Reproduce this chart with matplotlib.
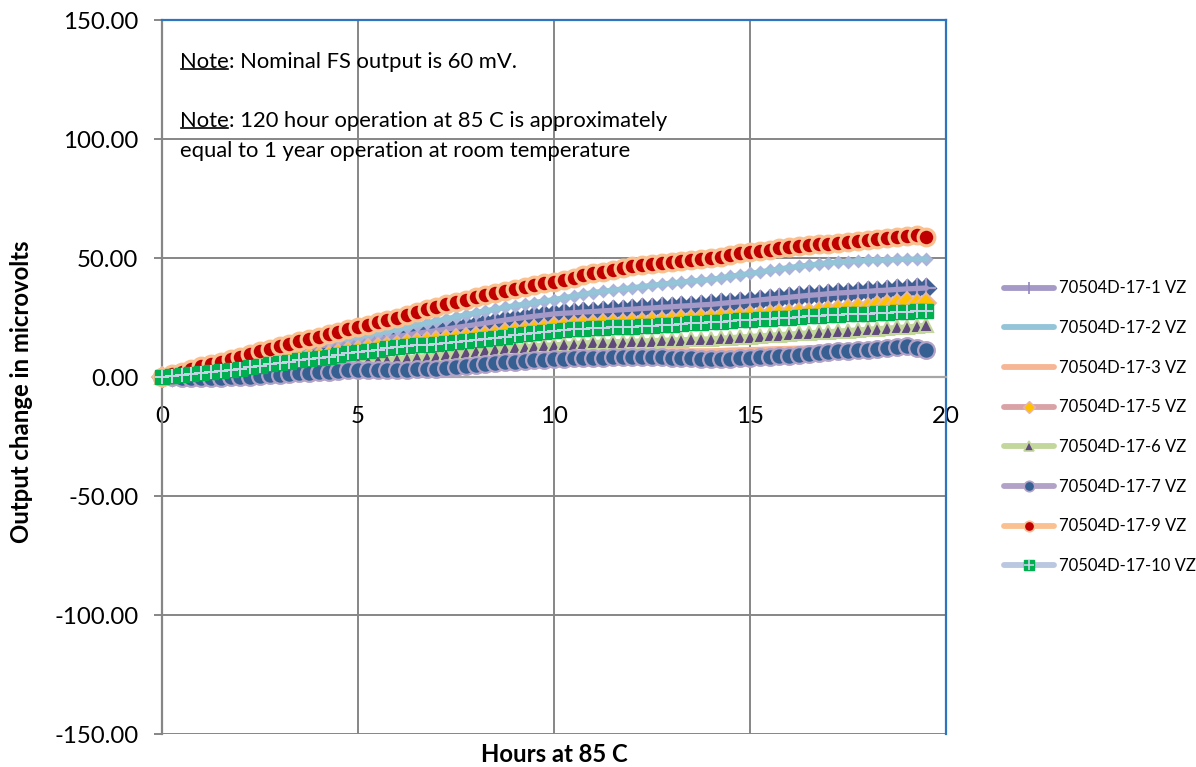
#!/usr/bin/env python3
"""
Output drift of 70504D-17 sensors during operation at 85 C.
"""

import matplotlib
matplotlib.use('Agg')
import matplotlib.pyplot as plt
from matplotlib.lines import Line2D

plt.rcParams['font.family'] = ['Lato', 'DejaVu Sans']

# ===============================
# Data
# ===============================
hours = [0, 0.25, 0.5, 0.75, 1, 1.25, 1.5, 1.75, 2, 2.25, 2.5, 2.75, 3, 3.25, 3.5, 3.75,
         4, 4.25, 4.5, 4.75, 5, 5.25, 5.5, 5.75, 6, 6.25, 6.5, 6.75, 7, 7.25, 7.5, 7.75,
         8, 8.25, 8.5, 8.75, 9, 9.25, 9.5, 9.75, 10, 10.25, 10.5, 10.75, 11, 11.25, 11.5, 11.75,
         12, 12.25, 12.5, 12.75, 13, 13.25, 13.5, 13.75, 14, 14.25, 14.5, 14.75, 15, 15.25, 15.5, 15.75,
         16, 16.25, 16.5, 16.75, 17, 17.25, 17.5, 17.75, 18, 18.25, 18.5, 18.75, 19, 19.25, 19.5]

vz_17_1 = [0, 0.5, 1.0, 1.5, 2.0, 2.7, 3.5, 4.2, 5.0, 6.0, 7.0, 8.0, 9.0, 10.0, 11.0, 12.0,
           13.0, 13.5, 14.0, 14.5, 15.0, 15.5, 16.0, 16.5, 17.0, 17.6, 18.3, 18.9, 19.5, 20.1, 20.8, 21.4,
           22.0, 22.6, 23.3, 23.9, 24.5, 25.0, 25.5, 26.0, 26.5, 26.8, 27.0, 27.3, 27.5, 27.8, 28.0, 28.3,
           28.5, 28.8, 29.0, 29.3, 29.5, 29.8, 30.0, 30.3, 30.5, 30.9, 31.3, 31.6, 32.0, 32.4, 32.8, 33.1,
           33.5, 33.9, 34.3, 34.6, 35.0, 35.3, 35.5, 35.8, 36.0, 36.3, 36.5, 36.8, 37.0, 37.2, 37.4]

vz_17_2 = [0, 0.7, 1.5, 2.2, 3.0, 4.0, 5.0, 6.0, 7.0, 8.1, 9.3, 10.4, 11.5, 12.3, 13.0, 13.8,
           14.5, 15.1, 15.8, 16.4, 17.0, 17.7, 18.5, 19.2, 20.0, 20.9, 21.8, 22.6, 23.5, 24.4, 25.3, 26.1,
           27.0, 27.8, 28.5, 29.3, 30.0, 30.6, 31.3, 31.9, 32.5, 33.3, 34.0, 34.8, 35.5, 36.0, 36.5, 37.0,
           37.5, 38.0, 38.5, 39.0, 39.5, 39.9, 40.3, 40.6, 41.0, 41.6, 42.3, 42.9, 43.5, 44.1, 44.8, 45.4,
           46.0, 46.5, 47.0, 47.5, 48.0, 48.3, 48.5, 48.8, 49.0, 49.1, 49.2, 49.4, 49.5, 49.5, 49.6]

vz_17_3 = [0, 0.0, 0.0, 0.0, 0.0, 0.1, 0.2, 0.4, 0.5, 0.8, 1.0, 1.3, 1.5, 1.8, 2.0, 2.3,
           2.5, 2.8, 3.0, 3.3, 3.5, 3.6, 3.8, 3.9, 4.0, 4.1, 4.3, 4.4, 4.5, 4.9, 5.3, 5.6,
           6.0, 6.4, 6.8, 7.1, 7.5, 7.8, 8.0, 8.3, 8.5, 8.8, 9.0, 9.3, 9.5, 9.8, 10.0, 10.3,
           10.5, 10.6, 10.8, 10.9, 11.0, 11.0, 11.0, 11.0, 11.0, 11.1, 11.3, 11.4, 11.5, 11.6, 11.8, 11.9,
           12.0, 12.1, 12.3, 12.4, 12.5, 12.5, 12.5, 12.5, 12.5, 12.5, 12.5, 12.5, 12.5, 12.3, 12.0]

vz_17_5 = [0, 0.4, 0.8, 1.1, 1.5, 2.0, 2.5, 3.0, 3.5, 4.1, 4.8, 5.4, 6.0, 6.6, 7.2, 7.8,
           8.4, 9.0, 9.7, 10.3, 11.0, 11.6, 12.1, 12.6, 13.2, 13.7, 14.1, 14.5, 15.0, 15.5, 15.9, 16.3,
           16.7, 17.2, 17.8, 18.3, 18.8, 19.3, 19.8, 20.3, 20.8, 21.1, 21.4, 21.7, 22.0, 22.1, 22.3, 22.4,
           22.5, 22.8, 23.0, 23.3, 23.5, 23.8, 24.0, 24.3, 24.5, 24.8, 25.0, 25.3, 25.5, 25.8, 26.0, 26.3,
           26.5, 26.8, 27.0, 27.3, 27.6, 28.0, 28.4, 28.8, 29.2, 29.7, 30.2, 30.8, 31.5, 30.5, 31.0]

vz_17_6 = [0, 0.2, 0.5, 0.7, 1.0, 1.2, 1.5, 1.7, 2.0, 2.4, 2.8, 3.1, 3.5, 3.9, 4.3, 4.6,
           5.0, 5.4, 5.8, 6.1, 6.5, 6.8, 7.0, 7.3, 7.5, 7.9, 8.3, 8.6, 9.0, 9.5, 10.0, 10.5,
           11.0, 11.4, 11.8, 12.1, 12.5, 12.8, 13.0, 13.3, 13.5, 13.8, 14.0, 14.3, 14.5, 14.6, 14.8, 14.9,
           15.0, 15.1, 15.3, 15.4, 15.5, 15.6, 15.8, 15.9, 16.0, 16.3, 16.5, 16.8, 17.0, 17.3, 17.5, 17.8,
           18.0, 18.3, 18.5, 18.8, 19.0, 19.3, 19.5, 19.8, 20.0, 20.3, 20.5, 20.8, 21.0, 21.4, 21.8]

vz_17_7 = [0, -0.2, -0.3, -0.4, -0.5, -0.5, -0.4, -0.2, 0.0, 0.2, 0.5, 0.8, 1.0, 1.2, 1.5, 1.8,
           2.0, 2.3, 2.5, 2.8, 3.0, 3.0, 2.9, 3.0, 3.0, 3.1, 3.2, 3.4, 3.5, 3.9, 4.3, 4.6,
           5.0, 5.4, 5.8, 6.1, 6.5, 6.8, 7.0, 7.3, 7.5, 7.6, 7.8, 7.9, 8.0, 8.1, 8.3, 8.4,
           8.5, 8.5, 8.3, 8.2, 8.0, 7.9, 7.8, 7.6, 7.5, 7.5, 7.6, 7.8, 8.0, 8.3, 8.5, 8.8,
           9.0, 9.4, 9.8, 10.1, 10.5, 10.8, 11.0, 11.3, 11.5, 11.9, 12.3, 12.6, 13.0, 12.0, 11.5]

vz_17_9 = [0, 1.2, 2.3, 3.5, 4.5, 5.5, 6.5, 7.5, 8.5, 9.7, 10.8, 11.9, 13.0, 14.0, 15.0, 16.1,
           17.0, 18.0, 19.1, 20.0, 21.0, 22.0, 23.1, 24.0, 25.0, 26.2, 27.3, 28.4, 29.5, 30.5, 31.6, 32.5,
           33.5, 34.4, 35.3, 36.2, 37.0, 37.8, 38.6, 39.3, 40.0, 40.9, 41.8, 42.7, 43.5, 44.3, 45.1, 45.9,
           46.5, 47.0, 47.6, 48.0, 48.5, 48.9, 49.3, 49.7, 50.0, 50.6, 51.2, 51.9, 52.5, 53.0, 53.5, 54.0,
           54.5, 54.9, 55.3, 55.7, 56.0, 56.4, 56.8, 57.1, 57.5, 58.0, 58.4, 58.9, 59.4, 59.8, 59.0]

vz_17_10 = [0, 0.4, 0.8, 1.1, 1.5, 2.0, 2.5, 3.0, 3.5, 4.1, 4.8, 5.4, 6.0, 6.5, 7.0, 7.5,
            8.0, 8.6, 9.3, 9.9, 10.5, 11.0, 11.5, 12.0, 12.5, 12.9, 13.3, 13.6, 14.0, 14.4, 14.8, 15.1,
            15.5, 16.0, 16.5, 17.0, 17.5, 18.0, 18.5, 19.0, 19.5, 19.8, 20.0, 20.3, 20.5, 20.6, 20.8, 20.9,
            21.0, 21.3, 21.5, 21.8, 22.0, 22.3, 22.5, 22.8, 23.0, 23.3, 23.5, 23.8, 24.0, 24.3, 24.5, 24.8,
            25.0, 25.3, 25.5, 25.8, 26.0, 26.1, 26.3, 26.4, 26.5, 26.8, 27.0, 27.3, 27.5, 27.6, 27.7]

labels = ['70504D-17-1 VZ', '70504D-17-2 VZ', '70504D-17-3 VZ', '70504D-17-5 VZ',
          '70504D-17-6 VZ', '70504D-17-7 VZ', '70504D-17-9 VZ', '70504D-17-10 VZ']

yticks = [-150, -100, -50, 0, 50, 100, 150]
xticks = [0, 5, 10, 15, 20]

# ===============================
# Figure
# ===============================
fig = plt.figure(figsize=(11.96, 7.67), dpi=100)
ax = fig.add_axes([0.13545, 0.04302, 0.6555, 0.9309])

ax.set_xlim(0, 20)
ax.set_ylim(-150, 150)

grid_col = '#868686'
ax.set_yticks(yticks)
ax.set_yticklabels([f'{v:.2f}' for v in yticks])
ax.set_xticks(xticks)
ax.set_xticklabels([str(v) for v in xticks])
for v in yticks:
    ax.axhline(v, color=grid_col, lw=1.4, zorder=1)
for v in xticks[1:-1]:
    ax.axvline(v, color=grid_col, lw=1.4, zorder=1)

ax.spines['left'].set_color(grid_col)
ax.spines['left'].set_linewidth(1.6)
ax.spines['bottom'].set_position(('data', 0))
ax.spines['bottom'].set_color('#a6a6a6')
ax.spines['bottom'].set_linewidth(1.6)
for side in ['top', 'right']:
    ax.spines[side].set_color('#2e75c0')
    ax.spines[side].set_linewidth(1.6)

ax.tick_params(axis='y', length=6, width=1.4, color=grid_col, pad=11, labelsize=17.3)
ax.tick_params(axis='x', length=0, pad=21, labelsize=17.3)

ax.set_xlabel('Hours at 85 C', fontsize=17.2, fontweight='bold')
ax.xaxis.set_label_coords(0.5, -0.012)
ax.set_ylabel('Output change in microvolts', fontsize=17.2, fontweight='bold')
ax.yaxis.set_label_coords(-0.165, 0.48)

# ===============================
# Series
# ===============================
lw = 3.8
common = dict(lw=lw, clip_on=False, solid_capstyle='round')

# extra marker bands seen under the 17-1 and 17-2 lines
ax.plot(hours, vz_17_1, ls='none', marker='D', ms=11, mfc='#3f5f93', mec='none',
        clip_on=False, zorder=2)
ax.plot(hours, vz_17_1, color='#a599c7', marker='+', ms=15, mew=1.6,
        mec='#a599c7', zorder=3, **common)
ax.plot(hours, vz_17_2, ls='none', marker='D', ms=7.5, mfc='#aab4da', mec='none',
        clip_on=False, zorder=3.5)
ax.plot(hours, vz_17_2, color='#93c4d7', zorder=4, **common)
ax.plot(hours, vz_17_3, color='#f6b594', zorder=4.5, **common)
ax.plot(hours, vz_17_5, color='#d9a3a5', marker='D', ms=10, mfc='#ffc000',
        mec='#e8b6a6', mew=1.3, zorder=5, **common)
ax.plot(hours, vz_17_6, color='#c3d69b', marker='^', ms=10, mfc='#604a7b',
        mec='#c3d69b', mew=1.5, zorder=6, **common)
ax.plot(hours, vz_17_7, color='#b3a2c7', marker='o', ms=12, mfc='#376092',
        mec='#b3a2c7', mew=1.6, zorder=7, **common)
ax.plot(hours, vz_17_9, color='#fac090', marker='o', ms=12, mfc='#c00000',
        mec='#fac090', mew=2.3, zorder=8, **common)
ax.plot(hours, vz_17_10, color='#b9c7e0', marker='s', ms=10, mfc='#00b050',
        mec='#00b050', zorder=9, **common)
ax.plot(hours, vz_17_10, ls='none', marker='+', ms=10, mew=1.4,
        mec='#c7d3e8', clip_on=False, zorder=9.5)

# ===============================
# Legend
# ===============================
def leg_handle(color, **kw):
    return Line2D([], [], color=color, lw=4.2, solid_capstyle='round', **kw)

handles = [
    leg_handle('#a599c7', marker='|', ms=8, mew=1.2, mec='#9486bb'),
    leg_handle('#93c4d7'),
    leg_handle('#f6b594'),
    leg_handle('#d9a3a5', marker='D', ms=6, mfc='#ffc000', mec='#e8b6a6', mew=1),
    leg_handle('#c3d69b', marker='^', ms=7, mfc='#604a7b', mec='#c3d69b', mew=1.2),
    leg_handle('#b3a2c7', marker='o', ms=7.5, mfc='#376092', mec='#b3a2c7', mew=1.2),
    leg_handle('#fac090', marker='o', ms=7.5, mfc='#c00000', mec='#fac090', mew=1.2),
    (leg_handle('#b9c7e0', marker='s', ms=7, mfc='#00b050', mec='#00b050'),
     Line2D([], [], ls='none', marker='+', ms=7, mew=1.2, mec='#c7d3e8')),
]
fig.legend(handles, labels, loc='center left', bbox_to_anchor=(0.834, 0.443),
           frameon=False, fontsize=12, handlelength=3.0, handletextpad=0.3,
           labelspacing=1.42, borderaxespad=0)

# ===============================
# Notes
# ===============================
note_kw = dict(fontsize=15.8, color='black')
n1 = ax.text(0.023, 0.941, 'Note', transform=ax.transAxes, va='center', ha='left', **note_kw)
ax.annotate(': Nominal FS output is 60 mV.', xy=(1, 0), xycoords=n1,
            va='bottom', ha='left', **note_kw)
n2 = ax.text(0.023, 0.858, 'Note', transform=ax.transAxes, va='center', ha='left', **note_kw)
ax.annotate(': 120 hour operation at 85 C is approximately', xy=(1, 0), xycoords=n2,
            va='bottom', ha='left', **note_kw)
ax.text(0.023, 0.817, 'equal to 1 year operation at room temperature',
        transform=ax.transAxes, va='center', ha='left', **note_kw)

# underline the two "Note" words
fig.canvas.draw()
renderer = fig.canvas.get_renderer()
for t in (n1, n2):
    bb = t.get_window_extent(renderer)
    y = bb.y0 + bb.height * 0.18
    fig.add_artist(Line2D([bb.x0 + 1, bb.x1 - 1], [y, y], transform=None,
                          color='black', lw=1.2))

fig.savefig('out.png', dpi=100)
